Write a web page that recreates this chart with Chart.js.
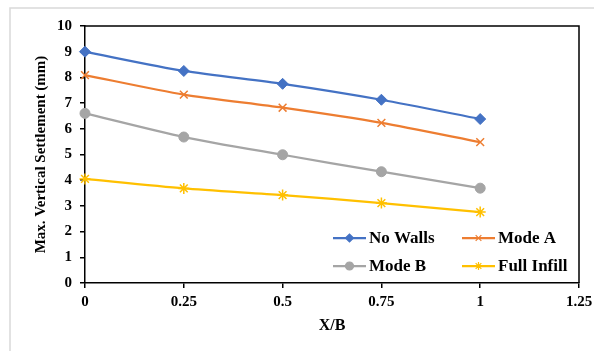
<!DOCTYPE html>
<html lang="en">
<head>
  <meta charset="UTF-8">
  <title>Max. Vertical Settlement vs X/B</title>
  <script src="https://cdn.jsdelivr.net/npm/chart.js"></script>
  <style>
    body {
      margin: 0;
      background: #fff;
    }
    canvas {
      display: block;
    }
  </style>
</head>
<body>
  <canvas id="settleChart" width="594" height="351"></canvas>

  <script>
    // X/B positions and settlement values (mm)
    const xb = [0, 0.25, 0.5, 0.75, 1];
    const noWalls = [9.0, 8.25, 7.75, 7.13, 6.38];
    const modeA = [8.09, 7.33, 6.82, 6.23, 5.48];
    const modeB = [6.6, 5.68, 4.99, 4.33, 3.69];
    const fullInfill = [4.05, 3.68, 3.42, 3.11, 2.76];

    const seriesNames = ['No Walls', 'Mode A', 'Mode B', 'Full Infill'];
    const seriesColors = ['#4472C4', '#ED7D31', '#A5A5A5', '#FFC000'];
    const seriesMarkers = ['rectRot', 'crossRot', 'circle', 'star'];
    const seriesValues = [noWalls, modeA, modeB, fullInfill];

    const serif = "'Liberation Serif', 'Times New Roman', serif";

    const datasets = seriesNames.map((name, i) => ({
      label: name,
      data: xb.map((x, j) => ({ x: x, y: seriesValues[i][j] })),
      borderColor: seriesColors[i],
      backgroundColor: seriesColors[i],
      borderWidth: 2.25,
      pointStyle: seriesMarkers[i],
      pointRadius: seriesMarkers[i] === 'circle' ? 5 : 5.5,
      pointBorderWidth: seriesMarkers[i] === 'crossRot' || seriesMarkers[i] === 'star' ? 1.5 : 1,
      tension: 0.25,
      clip: false
    }));

    // light frame around the whole chart + box around the plot area
    const framePlugin = {
      id: 'frame',
      beforeDraw(chart) {
        const c = chart.ctx;
        c.save();
        c.fillStyle = '#fff';
        c.fillRect(0, 0, chart.width, chart.height);
        c.strokeStyle = '#D9D9D9';
        c.lineWidth = 1.5;
        c.strokeRect(10, 8, 800, 800);
        c.restore();
      },
      afterDraw(chart) {
        const a = chart.chartArea;
        const c = chart.ctx;
        c.save();
        c.strokeStyle = '#000';
        c.lineWidth = 1.5;
        c.beginPath();
        c.moveTo(a.left, a.top);
        c.lineTo(a.right, a.top);
        c.lineTo(a.right, a.bottom);
        c.stroke();
        c.restore();
      }
    };

    // two-column legend sitting inside the plot area
    const insideLegend = {
      id: 'insideLegend',
      afterDatasetsDraw(chart) {
        const c = chart.ctx;
        const cols = [333, 462];
        const rows = [238, 266];
        c.save();
        c.font = 'bold 17px ' + serif;
        c.textBaseline = 'middle';
        c.textAlign = 'left';
        chart.data.datasets.forEach((ds, i) => {
          const x = cols[i % 2];
          const y = rows[Math.floor(i / 2)];
          c.strokeStyle = ds.borderColor;
          c.lineWidth = 2.25;
          c.beginPath();
          c.moveTo(x, y);
          c.lineTo(x + 33, y);
          c.stroke();
          c.fillStyle = ds.backgroundColor;
          c.lineWidth = 1.2;
          Chart.helpers.drawPoint(c, {
            pointStyle: ds.pointStyle,
            radius: 4,
            rotation: 0,
            borderWidth: 1.2
          }, x + 16.5, y);
          c.fillStyle = '#000';
          c.fillText(ds.label, x + 36, y + 1);
        });
        c.restore();
      }
    };

    new Chart(document.getElementById('settleChart'), {
      type: 'line',
      data: { datasets: datasets },
      options: {
        responsive: false,
        animation: false,
        layout: { padding: { left: 0, right: 15, top: 26, bottom: 0 } },
        plugins: {
          legend: { display: false },
          tooltip: { enabled: false }
        },
        scales: {
          x: {
            type: 'linear',
            min: 0,
            max: 1.25,
            afterFit(scale) {
              scale.height = 68;
              scale.paddingRight = 0;
            },
            ticks: {
              stepSize: 0.25,
              color: '#000',
              padding: 5,
              maxRotation: 0,
              callback: v => String(+v.toFixed(2)),
              font: { family: serif, size: 15, weight: 'bold' }
            },
            grid: { drawOnChartArea: false, drawTicks: true, tickLength: 5, color: '#000', lineWidth: 1.5 },
            border: { color: '#000', width: 1.5 },
            title: {
              display: true,
              text: 'X/B',
              color: '#000',
              padding: { top: 0, bottom: 16 },
              font: { family: serif, size: 16, weight: 'bold' }
            }
          },
          y: {
            min: 0,
            max: 10,
            afterFit(scale) { scale.width = 85; },
            ticks: {
              stepSize: 1,
              color: '#000',
              padding: 8,
              font: { family: serif, size: 15, weight: 'bold' }
            },
            grid: { drawOnChartArea: false, drawTicks: true, tickLength: 5, color: '#000', lineWidth: 1.5 },
            border: { color: '#000', width: 1.5 },
            title: {
              display: true,
              text: 'Max. Vertical Settlement (mm)',
              color: '#000',
              padding: { top: 32, bottom: 0 },
              font: { family: serif, size: 15, weight: 'bold' }
            }
          }
        }
      },
      plugins: [framePlugin, insideLegend]
    });
  </script>
</body>
</html>
